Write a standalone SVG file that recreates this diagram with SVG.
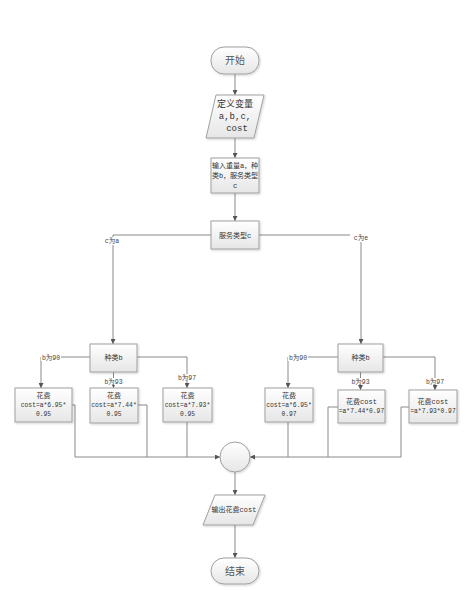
<svg xmlns="http://www.w3.org/2000/svg" width="469" height="590" viewBox="0 0 469 590">
<defs>
<linearGradient id="g" x1="0" y1="0" x2="0" y2="1"><stop offset="0" stop-color="#ffffff"/><stop offset="1" stop-color="#e6e6e6"/></linearGradient>
<marker id="ar" viewBox="0 0 6 6" refX="6" refY="3" markerWidth="5" markerHeight="5" orient="auto"><path d="M0,0 L6,3 L0,6 z" fill="#555"/></marker>
<filter id="sh" x="-10%" y="-10%" width="130%" height="130%"><feDropShadow dx="1" dy="1" stdDeviation="0.8" flood-color="#000" flood-opacity="0.18"/></filter>
</defs>
<style>
.n{fill:url(#g);stroke:#a0a0a0;stroke-width:1;filter:url(#sh)}
.c{fill:none;stroke:#8a8a8a;stroke-width:1}
.a{marker-end:url(#ar)}
.bg{fill:#fff}
text{font-family:"Liberation Mono","Noto Sans CJK SC",monospace;fill:#333;text-anchor:middle}
.t7{font-size:7px}
.t6{font-size:6.3px}
.t9{font-size:9px}
.t10{font-size:10px;font-family:"Noto Sans CJK SC",sans-serif;fill:#555}
.lb{font-size:6.5px;fill:#444}
</style>
<rect width="469" height="590" fill="#fff"/>
<g id="connectors">
<path class="c a" d="M235,74 V95"/>
<path class="c a" d="M235,138 V158"/>
<path class="c a" d="M235,193 V221"/>
<path class="c a" d="M211,235 H113 V344"/>
<path class="c a" d="M259,235 H361 V344"/>
<path class="c a" d="M90,357 H41 V388"/>
<path class="c a" d="M113.5,372 V388"/>
<path class="c a" d="M137,357 H187 V388"/>
<path class="c a" d="M338,357 H288 V388"/>
<path class="c a" d="M360.5,372 V390"/>
<path class="c a" d="M383,357 H435 V390"/>
<path class="c a" d="M72,405 H75 V457 H220"/>
<path class="c" d="M138,405 H147 V457"/>
<path class="c" d="M187,422 V457"/>
<path class="c" d="M288,422 V457"/>
<path class="c" d="M338,407 H328 V457"/>
<path class="c a" d="M409,407 H401 V457 H250"/>
<path class="c a" d="M235,472 V495"/>
<path class="c a" d="M235,525 V558"/>
<rect class="bg" x="101" y="237" width="22" height="8"/>
<text class="lb" x="112" y="243">c为a</text>
<rect class="bg" x="350" y="234" width="22" height="8"/>
<text class="lb" x="361" y="240">c为e</text>
<rect class="bg" x="41" y="354" width="20" height="7"/>
<text class="lb" x="51" y="359.5">b为90</text>
<rect class="bg" x="103" y="378" width="21" height="7"/>
<text class="lb" x="113.5" y="384">b为93</text>
<rect class="bg" x="177" y="374" width="21" height="7"/>
<text class="lb" x="187" y="380">b为97</text>
<rect class="bg" x="288" y="354" width="20" height="7"/>
<text class="lb" x="298" y="359.5">b为90</text>
<rect class="bg" x="350" y="378" width="21" height="7"/>
<text class="lb" x="360.5" y="384">b为93</text>
<rect class="bg" x="425" y="378" width="21" height="7"/>
<text class="lb" x="435" y="384">b为97</text>
</g>
<g id="start"><rect class="n" x="211" y="47" width="48" height="27" rx="13"/><text class="t10" x="235" y="64">开始</text></g>
<g id="define"><path class="n" d="M216,95 H264 L254,138 H206 Z"/><text class="t9" x="235" y="107">定义变量</text><text class="t9" x="235" y="119">a,b,c,</text><text class="t9" x="237" y="131">cost</text></g>
<g id="input"><rect class="n" x="211" y="158" width="48" height="35"/><text class="t7" x="235" y="168">输入重量a，种</text><text class="t7" x="235" y="178">类b，服务类型</text><text class="t7" x="235" y="188">c</text></g>
<g id="service"><rect class="n" x="211" y="221" width="48" height="28"/><text class="t7" x="235" y="238">服务类型c</text></g>
<g id="typeL"><rect class="n" x="90" y="344" width="47" height="28"/><text class="t7" x="113.5" y="360">种类b</text></g>
<g id="typeR"><rect class="n" x="338" y="344" width="45" height="28"/><text class="t7" x="360.5" y="360">种类b</text></g>
<g id="L1"><rect class="n" x="15" y="388" width="57" height="34"/><text class="t7" x="43.5" y="398">花费</text><text class="t6" x="43.5" y="407">cost=a*6.95*</text><text class="t6" x="43.5" y="416">0.95</text></g>
<g id="L2"><rect class="n" x="90" y="388" width="48" height="35"/><text class="t7" x="114" y="398">花费</text><text class="t6" x="114" y="407">cost=a*7.44*</text><text class="t6" x="114" y="416">0.95</text></g>
<g id="L3"><rect class="n" x="163" y="388" width="49" height="34"/><text class="t7" x="187.5" y="398">花费</text><text class="t6" x="187.5" y="407">cost=a*7.93*</text><text class="t6" x="187.5" y="416">0.95</text></g>
<g id="R1"><rect class="n" x="265" y="388" width="48" height="34"/><text class="t7" x="289" y="398">花费</text><text class="t6" x="289" y="407">cost=a*6.95*</text><text class="t6" x="289" y="416">0.97</text></g>
<g id="R2"><rect class="n" x="338" y="390" width="47" height="33"/><text class="t7" x="361.5" y="404">花费cost</text><text class="t6" x="361.5" y="413">=a*7.44*0.97</text></g>
<g id="R3"><rect class="n" x="409" y="390" width="48" height="33"/><text class="t7" x="433" y="404">花费cost</text><text class="t6" x="433" y="413">=a*7.93*0.97</text></g>
<g id="merge"><circle class="n" cx="235" cy="457" r="15"/></g>
<g id="output"><path class="n" d="M215,495 H265 L253,525 H203 Z"/><text class="t7" x="234" y="512">输出花费cost</text></g>
<g id="end"><rect class="n" x="211" y="558" width="48" height="26" rx="13"/><text class="t10" x="235" y="575">结束</text></g>
</svg>
